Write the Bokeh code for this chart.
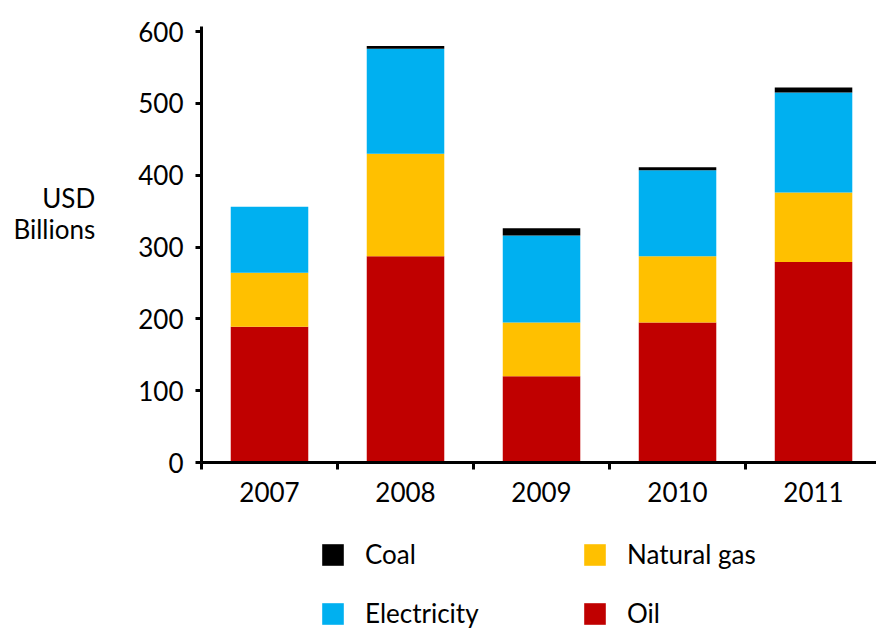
from bokeh.plotting import figure
from bokeh.models import (ColumnDataSource, Range1d, FixedTicker, Legend, LegendItem)
from bokeh.layouts import column
from bokeh.embed import file_html
from bokeh.resources import INLINE

# ---- data (USD billions) ----
years = ["2007", "2008", "2009", "2010", "2011"]
oil = [189, 287, 120, 195, 279]
natural_gas = [75, 143, 75, 92, 97]
electricity = [92, 146, 121, 120, 139]
coal = [0, 4, 10, 4, 7]
y_ticks = [0, 100, 200, 300, 400, 500, 600]

series = ["oil", "natural_gas", "electricity", "coal"]
colors = ["#C00000", "#FFC000", "#00B0F0", "#000000"]
names = {"oil": "Oil", "natural_gas": "Natural gas", "electricity": "Electricity", "coal": "Coal"}

xpos = [i + 0.5 for i in range(len(years))]
source = ColumnDataSource(dict(x=xpos, oil=oil, natural_gas=natural_gas,
                               electricity=electricity, coal=coal))

FONT = "Lato"
FS = "26px"

p = figure(width=876, height=520, output_backend="svg", toolbar_location=None,
           x_range=Range1d(0, 4.963), y_range=Range1d(0, 607),
           min_border_left=201, min_border_right=0, min_border_top=26,
           min_border_bottom=58, outline_line_color=None,
           background_fill_color="white", border_fill_color="white")

rs = p.vbar_stack(series, x="x", width=0.57, source=source, color=colors, line_color=None)

p.xgrid.visible = False
p.ygrid.visible = False

# y axis
ya = p.yaxis[0]
ya.ticker = FixedTicker(ticks=y_ticks)
ya.axis_line_width = 3
ya.major_tick_line_width = 3
ya.major_tick_out = 6
ya.major_tick_in = 0
ya.minor_tick_line_color = None
ya.major_label_text_font = FONT
ya.major_label_text_font_size = FS
ya.major_label_text_color = "black"
ya.major_label_standoff = 12
ya.axis_label = "USD\nBillions\n\u00a0\n\u00a0"
ya.axis_label_text_font = FONT
ya.axis_label_text_font_size = FS
ya.axis_label_text_font_style = "normal"
ya.axis_label_text_color = "black"
ya.axis_label_text_line_height = 0.96
ya.axis_label_standoff = 40
try:
    ya.axis_label_orientation = "horizontal"
except Exception:
    pass

# x axis: labels at category centres, ticks at boundaries
xa = p.xaxis[0]
xa.ticker = FixedTicker(ticks=xpos, minor_ticks=list(range(len(years) + 1)))
xa.major_label_overrides = {x: y for x, y in zip(xpos, years)}
xa.axis_line_width = 3
xa.major_tick_line_color = None
xa.major_tick_out = 0
xa.major_tick_in = 0
xa.minor_tick_line_color = "black"
xa.minor_tick_line_width = 3
xa.minor_tick_out = 7
xa.minor_tick_in = 0
xa.major_label_text_font = FONT
xa.major_label_text_font_size = FS
xa.major_label_text_color = "black"
xa.major_label_standoff = 12

# ---- legend strip (separate figure below the chart) ----
p2 = figure(width=876, height=112, output_backend="svg", toolbar_location=None,
            x_axis_location=None, y_axis_location=None,
            x_range=Range1d(0, 1), y_range=Range1d(0, 1),
            min_border=0, outline_line_color=None,
            background_fill_color="white", border_fill_color="white")
p2.xgrid.visible = False
p2.ygrid.visible = False
# zero-height swatch renderers (only used to draw legend glyphs)
swatch = ColumnDataSource(dict(x=[0], top=[0]))
lr = {s: p2.vbar(x="x", top="top", width=0.01, source=swatch, color=c, line_color=None)
      for s, c in zip(series, colors)}

common = dict(orientation="horizontal", padding=0, margin=0,
              spacing=66, glyph_width=27, glyph_height=27,
              label_standoff=19, label_width=150, label_height=27,
              label_text_font=FONT, label_text_font_size=FS,
              label_text_color="black", border_line_color=None,
              background_fill_alpha=0)

legend_a = Legend(items=[LegendItem(label=names[s], renderers=[lr[s]])
                         for s in ["coal", "natural_gas"]], location=(118, 62), **common)
legend_b = Legend(items=[LegendItem(label=names[s], renderers=[lr[s]])
                         for s in ["electricity", "oil"]], location=(118, 3), **common)
p2.add_layout(legend_a, "center")
p2.add_layout(legend_b, "center")

open("out.html", "w").write(file_html(column(p, p2, spacing=0), INLINE))
